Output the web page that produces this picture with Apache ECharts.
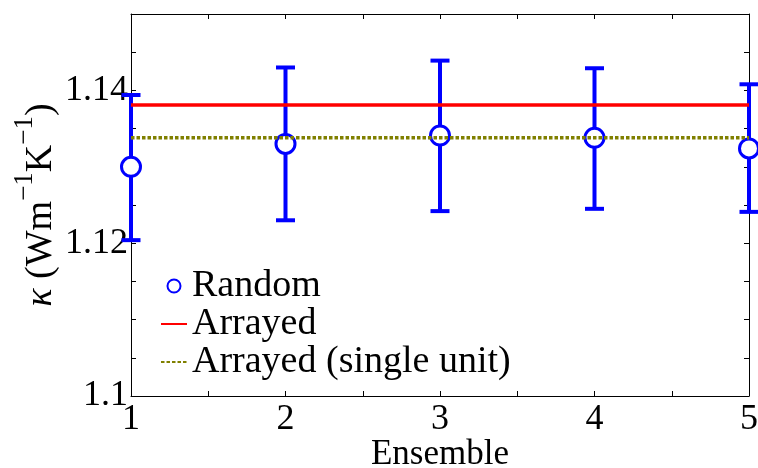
<!DOCTYPE html>
<html>
<head>
<meta charset="utf-8">
<script src="https://cdn.jsdelivr.net/npm/echarts@6/dist/echarts.min.js"></script>
<style>
  html, body { margin: 0; padding: 0; background: #fff; }
  #chart { width: 758px; height: 468px; }
</style>
</head>
<body>
<div id="chart"></div>
<script>
// Ensemble index of each random run
const ensembles = [1, 2, 3, 4, 5];
// Thermal conductivity of the random ensembles (mean, lower and upper error limits)
const randomMean = [1.1300, 1.1330, 1.1341, 1.1338, 1.1324];
const randomLow  = [1.1204, 1.1230, 1.1242, 1.1245, 1.1241];
const randomHigh = [1.1394, 1.1430, 1.1439, 1.1429, 1.1408];
// Reference values for the arrayed configurations
const arrayedValue = 1.1381;
const arrayedSingleValue = 1.1338;
// Axis ranges
const xRange = [1, 5];
const yRange = [1.1, 1.15];

const FONT = '"Liberation Serif", "Times New Roman", serif';
const BLUE = '#0000ff';
const RED = '#ff0000';
const OLIVE = '#808000';

const errorData = ensembles.map((x, i) => [x, randomLow[i], randomHigh[i]]);
const meanData = ensembles.map((x, i) => [x, randomMean[i]]);
const flat = v => xRange.map(x => [x, v]);

const axisCommon = {
  axisLine: { show: true, lineStyle: { color: '#000', width: 1 } },
  axisTick: { show: true, inside: true, length: 5, lineStyle: { color: '#000', width: 1 } },
  splitLine: { show: false }
};

// legend entries for the flat lines: show only the line sample, no marker
const hiddenMarker = { color: 'rgba(0,0,0,0)', borderWidth: 0, borderColor: 'rgba(0,0,0,0)' };

const chart = echarts.init(document.getElementById('chart'), null, { renderer: 'canvas' });
chart.setOption({
  animation: false,
  backgroundColor: '#fff',
  grid: { left: 131, right: 9, top: 14, bottom: 72, containLabel: false, outerBoundsMode: 'none' },
  legend: {
    orient: 'vertical',
    left: 160,
    top: 267,
    padding: 0,
    itemWidth: 26,
    itemHeight: 13,
    itemGap: 0,
    textStyle: { fontFamily: FONT, fontSize: 38, color: '#000', lineHeight: 36 },
    data: [
      { name: 'Random' },
      { name: 'Arrayed', itemStyle: hiddenMarker },
      { name: 'Arrayed (single unit)', itemStyle: hiddenMarker }
    ]
  },
  xAxis: [
    Object.assign({
      type: 'value', min: xRange[0], max: xRange[1], interval: 0.5, position: 'bottom',
      name: 'Ensemble', nameLocation: 'middle', nameGap: 41, nameMoveOverlap: false,
      nameTextStyle: { fontFamily: FONT, fontSize: 35, color: '#000' },
      axisLabel: {
        margin: 6, fontFamily: FONT, fontSize: 36, color: '#000',
        formatter: v => (Math.abs(v - Math.round(v)) < 1e-9 ? String(Math.round(v)) : '')
      }
    }, axisCommon),
    Object.assign({
      type: 'value', min: xRange[0], max: xRange[1], interval: 0.5, position: 'top',
      axisLabel: { show: false }
    }, axisCommon)
  ],
  yAxis: [
    Object.assign({
      type: 'value', min: yRange[0], max: yRange[1], interval: 0.005, position: 'left',
      name: '{k|κ} (Wm{s|−1}K{s|−1})', nameLocation: 'middle', nameGap: 71, nameRotate: 90,
      nameMoveOverlap: false,
      nameTextStyle: {
        fontFamily: FONT, fontSize: 38, color: '#000',
        rich: {
          k: { fontFamily: FONT, fontSize: 38, fontStyle: 'italic', lineHeight: 38, verticalAlign: 'bottom' },
          s: { fontFamily: FONT, fontSize: 27, lineHeight: 27, padding: [0, 0, 22, 0], verticalAlign: 'bottom' }
        }
      },
      axisLabel: {
        margin: 3, fontFamily: FONT, fontSize: 36, color: '#000',
        formatter: v => {
          const m = Math.round(v * 1000);
          return m % 20 === 0 ? String(m / 1000) : '';
        }
      }
    }, axisCommon),
    Object.assign({
      type: 'value', min: yRange[0], max: yRange[1], interval: 0.005, position: 'right',
      axisLabel: { show: false }
    }, axisCommon)
  ],
  series: [
    {
      name: 'Arrayed', type: 'line', data: flat(arrayedValue),
      symbol: 'none', lineStyle: { color: RED, width: 3.5 }, itemStyle: { color: RED }
    },
    {
      name: 'Arrayed (single unit)', type: 'line', data: flat(arrayedSingleValue),
      symbol: 'none', lineStyle: { color: OLIVE, width: 3.5, type: [3.5, 2] }, itemStyle: { color: OLIVE }
    },
    {
      name: 'Random error', type: 'custom', clip: false, data: errorData,
      renderItem: (params, api) => {
        const x = api.value(0);
        const lo = api.coord([x, api.value(1)]);
        const hi = api.coord([x, api.value(2)]);
        const half = 9.5;
        const style = { stroke: BLUE, lineWidth: 4 };
        return {
          type: 'group',
          children: [
            { type: 'line', shape: { x1: lo[0], y1: lo[1], x2: hi[0], y2: hi[1] }, style },
            { type: 'line', shape: { x1: lo[0] - half, y1: lo[1], x2: lo[0] + half, y2: lo[1] }, style },
            { type: 'line', shape: { x1: hi[0] - half, y1: hi[1], x2: hi[0] + half, y2: hi[1] }, style }
          ]
        };
      }
    },
    {
      name: 'Random', type: 'scatter', data: meanData, clip: false,
      symbol: 'circle', symbolSize: 19,
      itemStyle: { color: '#fff', borderColor: BLUE, borderWidth: 3, opacity: 1 }
    }
  ]
});
</script>
</body>
</html>
